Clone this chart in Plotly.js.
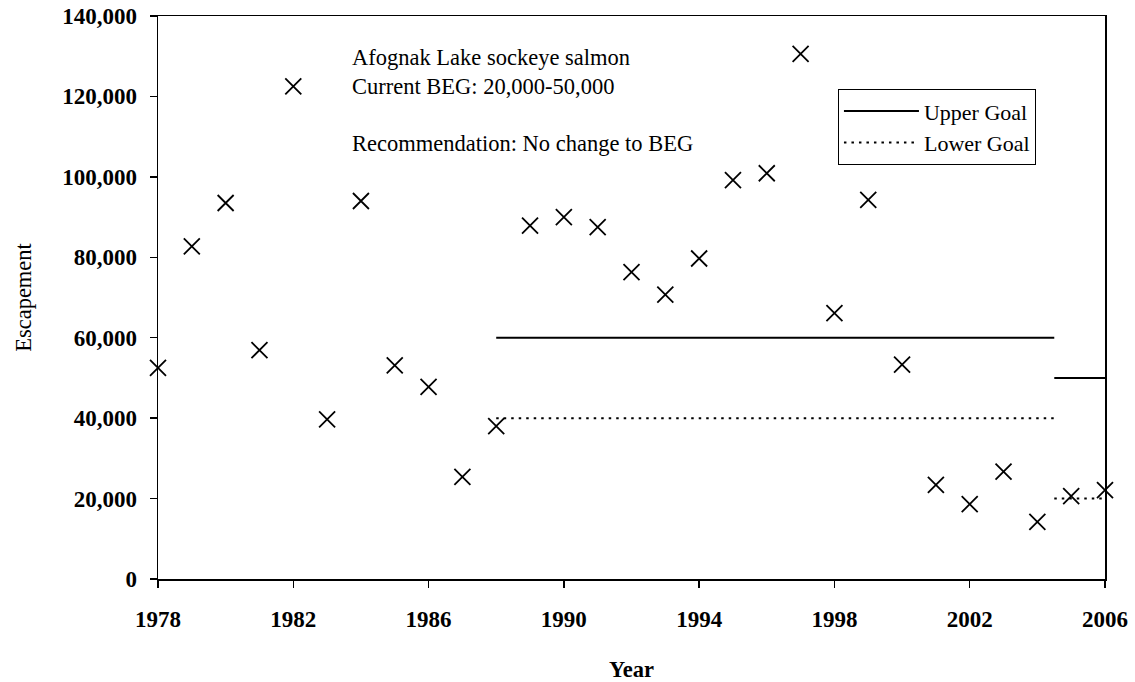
<!DOCTYPE html>
<html>
<head>
<meta charset="utf-8">
<script src="https://cdn.plot.ly/plotly-3.0.1.min.js"></script>
<style>html,body{margin:0;padding:0;background:#fff;}#chart{width:1135px;height:682px;}</style>
</head>
<body>
<div id="chart"></div>
<script>
// Data
const years = [1978,1979,1980,1981,1982,1983,1984,1985,1986,1987,1988,1989,1990,1991,1992,1993,1994,1995,1996,1997,1998,1999,2000,2001,2002,2003,2004,2005,2006];
const escapement = [52500,82700,93500,56900,122500,39700,94000,53100,47800,25400,38000,87900,90000,87500,76300,70700,79700,99200,100900,130600,66100,94300,53300,23400,18600,26700,14200,20600,22100];
const goalYears = [1988, 2004.5, null, 2004.5, 2006];
const upperGoal = [60000, 60000, null, 50000, 50000];
const lowerGoal = [40000, 40000, null, 20000, 20000];
const xTicks = [1978,1982,1986,1990,1994,1998,2002,2006];
const yTicks = [0,20000,40000,60000,80000,100000,120000,140000];
const yTickLabels = ['0','20,000','40,000','60,000','80,000','100,000','120,000','140,000'];
const notes = ['Afognak Lake sockeye salmon','Current BEG: 20,000-50,000','Recommendation: No change to BEG'];

const serif = '"Liberation Serif", "Times New Roman", serif';

const traces = [
  {x: goalYears, y: upperGoal, name: 'Upper Goal', mode: 'lines', connectgaps: false,
   line: {color: '#000', width: 2}},
  {x: goalYears, y: lowerGoal, name: 'Lower Goal', mode: 'lines', connectgaps: false,
   line: {color: '#000', width: 2, dash: '2.5px,5px'}},
  {x: years, y: escapement, name: 'Escapement', mode: 'markers', showlegend: false, cliponaxis: false,
   marker: {symbol: 'x-thin', size: 16, color: '#000', line: {color: '#000', width: 1.8}}}
];

const layout = {
  width: 1135, height: 682,
  margin: {l: 158, r: 30, t: 16, b: 103},
  paper_bgcolor: '#fff', plot_bgcolor: '#fff',
  font: {family: serif, color: '#000', size: 22},
  showlegend: true,
  legend: {x: 0.718, y: 0.87, xanchor: 'left', yanchor: 'top', bgcolor: '#fff',
           bordercolor: '#000', borderwidth: 1, font: {family: serif, size: 22, color: '#000'},
           itemwidth: 75, tracegroupgap: 0},
  xaxis: {range: [1978, 2006], tickvals: xTicks, ticktext: xTicks.map(String),
          ticks: 'outside', ticklen: 7, tickwidth: 1.5, tickcolor: '#000',
          showline: true, linecolor: '#000', linewidth: 1.5, mirror: true,
          showgrid: false, zeroline: false,
          tickfont: {family: serif, size: 23, color: '#000', weight: 'bold'},
          ticklabelstandoff: 12,
          title: {text: '<b>Year</b>', font: {family: serif, size: 22.5, color: '#000'}, standoff: 38}},
  yaxis: {range: [0, 140000], tickvals: yTicks, ticktext: yTickLabels,
          ticks: 'outside', ticklen: 7, tickwidth: 1.5, tickcolor: '#000',
          showline: true, linecolor: '#000', linewidth: 1.5, mirror: true,
          showgrid: false, zeroline: false,
          tickfont: {family: serif, size: 23, color: '#000', weight: 'bold'},
          ticklabelstandoff: 8,
          title: {text: 'Escapement', font: {family: serif, size: 22.5, color: '#000'}, standoff: 24}},
  annotations: [
    {text: notes[0], xref: 'paper', yref: 'paper', x: 0.2027, y: 0.9254, xanchor: 'left', yanchor: 'middle', showarrow: false, font: {family: serif, size: 22.5, color: '#000'}},
    {text: notes[1], xref: 'paper', yref: 'paper', x: 0.2027, y: 0.8739, xanchor: 'left', yanchor: 'middle', showarrow: false, font: {family: serif, size: 22.5, color: '#000'}},
    {text: notes[2], xref: 'paper', yref: 'paper', x: 0.2027, y: 0.7744, xanchor: 'left', yanchor: 'middle', showarrow: false, font: {family: serif, size: 22.5, color: '#000'}}
  ]
};

Plotly.newPlot('chart', traces, layout, {displayModeBar: false, staticPlot: true});
</script>
</body>
</html>
